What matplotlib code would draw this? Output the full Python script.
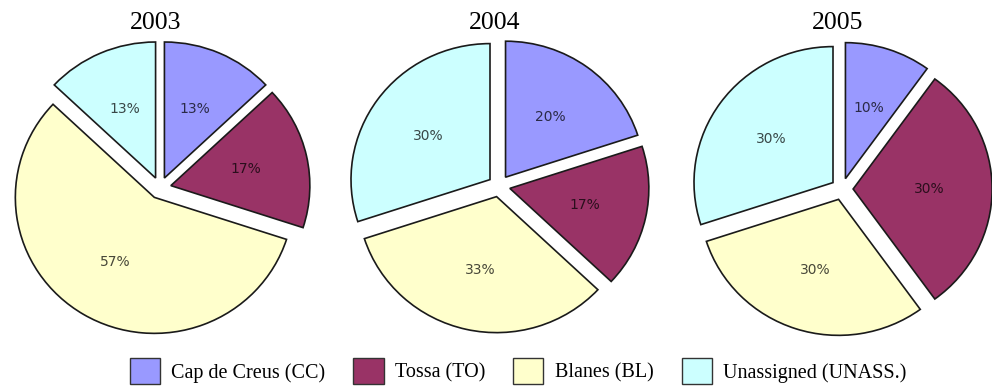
import matplotlib
matplotlib.use("Agg")
import matplotlib.pyplot as plt
from matplotlib.patches import Patch

# data (percent share per site)
years = ["2003", "2004", "2005"]
sites = ["Cap de Creus (CC)", "Tossa (TO)", "Blanes (BL)", "Unassigned (UNASS.)"]
share_2003 = [13, 17, 57, 13]
share_2004 = [20, 17, 33, 30]
share_2005 = [10, 30, 30, 30]
site_colors = ["#9999ff", "#993366", "#ffffcc", "#ccffff"]

W, H = 992, 386
fig = plt.figure(figsize=(W / 100, H / 100), dpi=100)

# pie centres in pixels (from top-left), radius in px
centres = [(160, 188), (499, 186), (842, 189)]
rx, ry = 139, 136
half = 170

for year, values, (cx, cy) in zip(years, [share_2003, share_2004, share_2005], centres):
    ax = fig.add_axes([(cx - half) / W, (H - cy - half) / H, 2 * half / W, 2 * half / H])
    wedges, texts, autotexts = ax.pie(
        values,
        colors=site_colors,
        explode=[0.08] * len(values),
        startangle=90,
        counterclock=False,
        autopct="%.0f%%",
        pctdistance=0.55,
        wedgeprops=dict(edgecolor="#1a1a1a", linewidth=1.2),
    )
    for t in autotexts:
        t.set_fontfamily("DejaVu Sans")
        t.set_fontsize(10)
        t.set_color("black")
        t.set_alpha(0.72)
    ax.set_aspect("auto")
    ax.set_xlim(-half / rx, half / rx)
    ax.set_ylim(-half / ry, half / ry)
    ax.text(-0.03, (cy - 23) / ry, year, ha="center", va="center",
            fontfamily="Liberation Serif", fontsize=18.5)

handles = [Patch(facecolor=c, edgecolor="#333333", linewidth=1.0, label=s)
           for c, s in zip(site_colors, sites)]
fig.legend(handles=handles, loc="center", bbox_to_anchor=(518 / W, 1 - 371 / H),
           ncol=4, frameon=False, prop=dict(family="Liberation Serif", size=14.5),
           handlelength=1.5, handleheight=1.6, handletextpad=0.55, columnspacing=1.4)

fig.savefig("out.png", dpi=100)
